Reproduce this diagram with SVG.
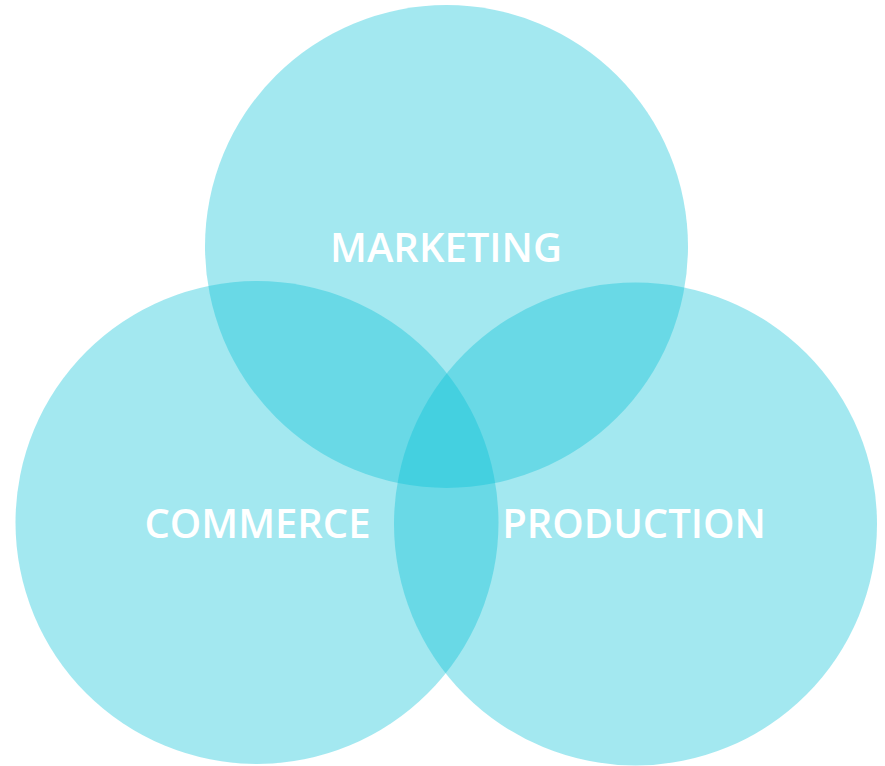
<svg xmlns="http://www.w3.org/2000/svg" width="885" height="766" viewBox="0 0 885 766">
<style>
.c{fill:rgb(6,193,214);fill-opacity:0.37}
.t{font-family:"Open Sans","Noto Sans",sans-serif;font-weight:600;font-size:40px;fill:#fff;text-anchor:middle}
</style>
<rect width="885" height="766" fill="#fff"/>
<g id="marketing"><circle class="c" cx="446.5" cy="246.5" r="241.5"/></g>
<g id="commerce"><circle class="c" cx="257" cy="522.5" r="241.5"/></g>
<g id="production"><circle class="c" cx="635.5" cy="524" r="241.5"/></g>
<g id="labels">
<text class="t" x="446" y="262">MARKETING</text>
<text class="t" x="257.5" y="538">COMMERCE</text>
<text class="t" x="634" y="538">PRODUCTION</text>
</g>
<g id="connectors"/>
</svg>
